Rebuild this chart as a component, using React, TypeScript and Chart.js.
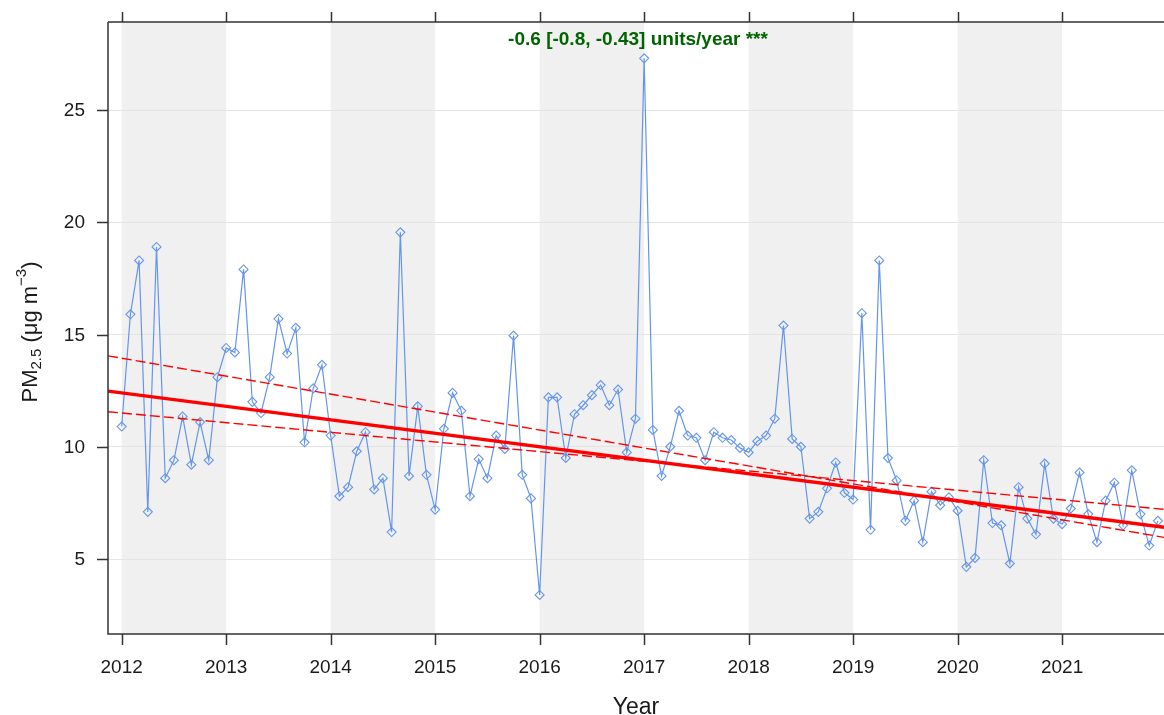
import React, { useEffect, useRef } from "react";
import { Chart, registerables } from "chart.js";

Chart.register(...registerables);

// ---- data ----
const years = [2012, 2013, 2014, 2015, 2016, 2017, 2018, 2019, 2020, 2021];
const pm2012 = [10.9, 15.9, 18.3, 7.1, 18.9, 8.6, 9.4, 11.35, 9.2, 11.1, 9.4, 13.1];
const pm2013 = [14.4, 14.2, 17.9, 12.0, 11.5, 13.1, 15.7, 14.15, 15.3, 10.2, 12.6, 13.65];
const pm2014 = [10.5, 7.8, 8.2, 9.8, 10.65, 8.1, 8.6, 6.2, 19.55, 8.7, 11.8, 8.75];
const pm2015 = [7.2, 10.8, 12.4, 11.6, 7.8, 9.45, 8.6, 10.5, 9.9, 14.95, 8.75, 7.7];
const pm2016 = [3.4, 12.2, 12.2, 9.5, 11.45, 11.85, 12.3, 12.75, 11.85, 12.55, 9.75, 11.25];
const pm2017 = [27.3, 10.75, 8.7, 10.0, 11.6, 10.5, 10.4, 9.4, 10.65, 10.4, 10.3, 9.95];
const pm2018 = [9.75, 10.25, 10.5, 11.25, 15.4, 10.35, 10.0, 6.8, 7.1, 8.15, 9.3, 7.95];
const pm2019 = [7.65, 15.95, 6.3, 18.3, 9.5, 8.5, 6.7, 7.6, 5.75, 8.0, 7.4, 7.75];
const pm2020 = [7.15, 4.65, 5.05, 9.4, 6.6, 6.5, 4.8, 8.2, 6.8, 6.1, 9.25, 6.8];
const pm2021 = [6.55, 7.25, 8.85, 7.0, 5.75, 7.6, 8.4, 6.5, 8.95, 7.0, 5.6, 6.7];
const pmByYear = [pm2012, pm2013, pm2014, pm2015, pm2016, pm2017, pm2018, pm2019, pm2020, pm2021];

const yTicks = [5, 10, 15, 20, 25];
const shadedYears = [2012, 2014, 2016, 2018, 2020];

// Theil-Sen trend (value at left edge of panel, slope per year): main, lower-slope CI, upper-slope CI
const trendStart = [12.48, 14.05, 11.56];
const trendSlope = [-0.6, -0.8, -0.43];
const annotationText = "-0.6 [-0.8, -0.43] units/year ***";

const X_MIN = 2011.869;
const X_MAX = 2021.975;
const Y_MIN = 1.66;
const Y_MAX = 28.92;

const FONT = "'Liberation Sans', Arial, sans-serif";

function pmPoints() {
  const pts: { x: number; y: number }[] = [];
  pmByYear.forEach((arr, yi) => {
    arr.forEach((v, m) => pts.push({ x: years[yi] + m / 12, y: v }));
  });
  return pts;
}

function trendPoints(k: number) {
  return [
    { x: X_MIN, y: trendStart[k] },
    { x: X_MAX, y: trendStart[k] + trendSlope[k] * (X_MAX - X_MIN) },
  ];
}

const panelPlugin = {
  id: "panelPlugin",
  beforeDraw(chart: any) {
    const { ctx, chartArea: a, scales } = chart;
    const x = scales.x;
    ctx.save();
    ctx.fillStyle = "#f0f0f0";
    shadedYears.forEach((yr) => {
      const x0 = x.getPixelForValue(yr);
      const x1 = x.getPixelForValue(yr + 1);
      ctx.fillRect(x0, a.top, x1 - x0, a.bottom - a.top);
    });
    ctx.restore();
  },
  afterDraw(chart: any) {
    const { ctx, chartArea: a, scales } = chart;
    const x = scales.x;
    const y = scales.y;
    ctx.save();
    // axes frame
    ctx.strokeStyle = "#333";
    ctx.lineWidth = 1.5;
    ctx.beginPath();
    ctx.moveTo(a.left, a.top);
    ctx.lineTo(a.right, a.top);
    ctx.moveTo(a.left, a.top);
    ctx.lineTo(a.left, a.bottom);
    ctx.lineTo(a.right, a.bottom);
    ctx.stroke();
    // tick marks
    ctx.beginPath();
    years.forEach((yr) => {
      const px = Math.round(x.getPixelForValue(yr)) + 0.5;
      ctx.moveTo(px, a.bottom);
      ctx.lineTo(px, a.bottom + 11);
      ctx.moveTo(px, a.top);
      ctx.lineTo(px, a.top - 10);
    });
    yTicks.forEach((v) => {
      const py = Math.round(y.getPixelForValue(v)) + 0.5;
      ctx.moveTo(a.left, py);
      ctx.lineTo(a.left - 11, py);
    });
    ctx.stroke();
    // tick labels
    ctx.fillStyle = "#1a1a1a";
    ctx.font = `19px ${FONT}`;
    ctx.textAlign = "center";
    ctx.textBaseline = "alphabetic";
    years.forEach((yr) => {
      ctx.fillText(String(yr), x.getPixelForValue(yr), a.bottom + 39);
    });
    ctx.textAlign = "right";
    ctx.textBaseline = "middle";
    yTicks.forEach((v) => {
      ctx.fillText(String(v), a.left - 23, y.getPixelForValue(v) + 1);
    });
    // x title
    ctx.font = `23px ${FONT}`;
    ctx.textAlign = "center";
    ctx.textBaseline = "alphabetic";
    ctx.fillText("Year", (a.left + a.right) / 2, 714);
    // y title with sub/superscript
    const parts = [
      { t: "PM", size: 22, dy: 0 },
      { t: "2.5", size: 15, dy: 4 },
      { t: " (\u03BCg m", size: 22, dy: 0 },
      { t: "\u22123", size: 15, dy: -11 },
      { t: ")", size: 22, dy: 0 },
    ];
    let total = 0;
    const widths = parts.map((p) => {
      ctx.font = `${p.size}px ${FONT}`;
      const w = ctx.measureText(p.t).width;
      total += w;
      return w;
    });
    ctx.translate(37, 332);
    ctx.rotate(-Math.PI / 2);
    ctx.textAlign = "left";
    let cx = -total / 2;
    parts.forEach((p, i) => {
      ctx.font = `${p.size}px ${FONT}`;
      ctx.fillText(p.t, cx, p.dy);
      cx += widths[i];
    });
    ctx.setTransform(1, 0, 0, 1, 0, 0);
    // annotation
    ctx.fillStyle = "#006400";
    ctx.font = `bold 19px ${FONT}`;
    ctx.textAlign = "center";
    ctx.fillText(annotationText, (a.left + a.right) / 2 + 2, 45);
    ctx.restore();
  },
};

export default function App() {
  const ref = useRef<HTMLCanvasElement>(null);
  useEffect(() => {
    document.body.style.margin = "0";
    const chart = new Chart(ref.current as HTMLCanvasElement, {
      type: "line",
      data: {
        datasets: [
          {
            data: pmPoints(),
            borderColor: "#6495ED",
            borderWidth: 1.2,
            pointStyle: "rectRot",
            pointRadius: 4.5,
            pointBorderColor: "#6495ED",
            pointBackgroundColor: "rgba(255,255,255,0)",
            pointBorderWidth: 1.1,
            tension: 0,
            order: 5,
          },
          {
            data: trendPoints(0),
            borderColor: "#ff0000",
            borderWidth: 3.4,
            pointRadius: 0,
            order: 1,
          },
          {
            data: trendPoints(1),
            borderColor: "#ff0000",
            borderWidth: 1.4,
            borderDash: [10, 4],
            pointRadius: 0,
            order: 2,
          },
          {
            data: trendPoints(2),
            borderColor: "#ff0000",
            borderWidth: 1.4,
            borderDash: [10, 4],
            pointRadius: 0,
            order: 2,
          },
        ],
      },
      options: {
        animation: false,
        responsive: false,
        devicePixelRatio: 1,
        parsing: false as any,
        layout: { autoPadding: false, padding: { top: 22, left: 0, right: 0, bottom: 0 } },
        plugins: { legend: { display: false }, tooltip: { enabled: false } },
        scales: {
          x: {
            type: "linear",
            min: X_MIN,
            max: X_MAX,
            afterBuildTicks: (s: any) => {
              s.ticks = years.map((v) => ({ value: v }));
            },
            afterFit: (s: any) => {
              s.height = 81;
            },
            ticks: { display: false },
            grid: { display: false },
            border: { display: false },
          },
          y: {
            type: "linear",
            min: Y_MIN,
            max: Y_MAX,
            afterBuildTicks: (s: any) => {
              s.ticks = yTicks.map((v) => ({ value: v }));
            },
            afterFit: (s: any) => {
              s.width = 108;
            },
            ticks: { display: false },
            grid: { color: "#e4e4e4", lineWidth: 1, drawTicks: false },
            border: { display: false },
          },
        },
      },
      plugins: [panelPlugin],
    } as any);
    return () => chart.destroy();
  }, []);
  return <canvas ref={ref} width={1164} height={715} style={{ display: "block" }} />;
}
